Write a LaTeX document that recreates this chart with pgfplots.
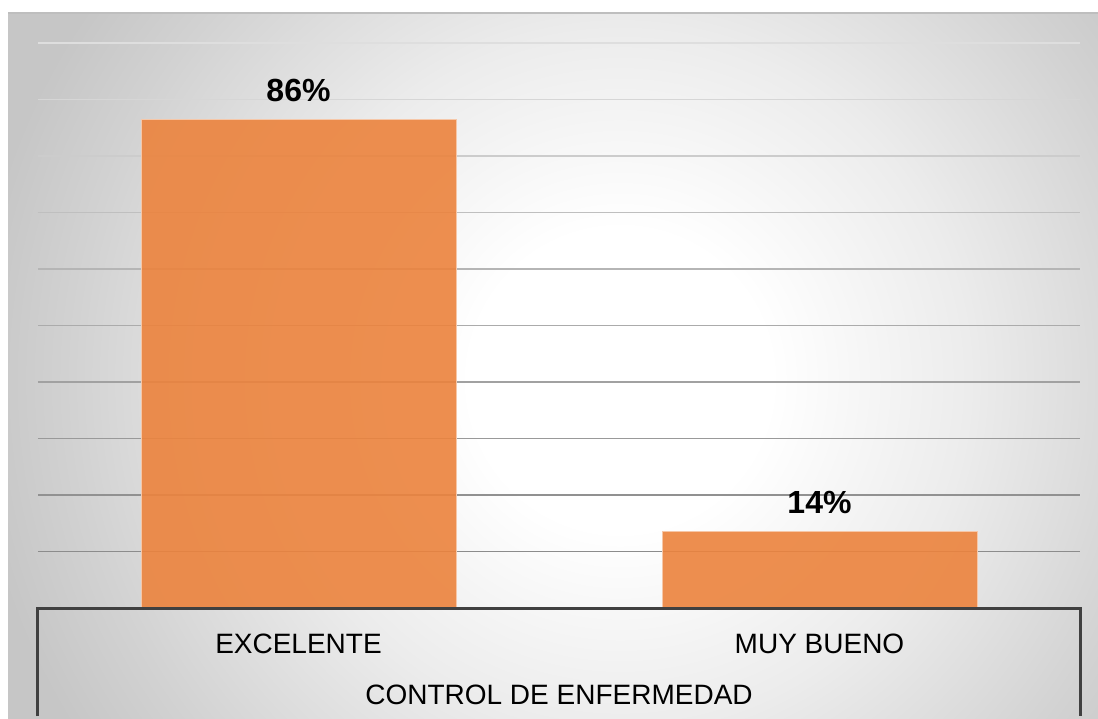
\documentclass[border=0pt]{standalone}
\usepackage{fontspec}
\setmainfont{Liberation Sans}
\usepackage{pgfplots}
\pgfplotsset{compat=1.18}
\definecolor{barc}{RGB}{236,131,61}
\definecolor{axc}{RGB}{64,64,64}
\definecolor{bgA}{RGB}{236,236,236}
\definecolor{bgB}{RGB}{210,210,210}
\definecolor{bgC}{RGB}{198,198,198}
\definecolor{bordc}{RGB}{190,190,190}
\pgfdeclareradialshading{chartbg}{\pgfpoint{0bp}{0bp}}{color(0bp)=(white); color(4.7bp)=(white); color(10.9bp)=(bgA); color(17.1bp)=(bgB); color(20.3bp)=(bgC); color(25bp)=(bgC); color(50bp)=(bgC)}
\begin{document}
\begin{tikzpicture}
\useasboundingbox (0,0) rectangle (549pt,359pt);
\begin{scope}
\clip (4pt,0) rectangle (549pt,352.5pt);
\shade[shading=chartbg] (310pt,169pt) circle (400pt);
\end{scope}
\draw[bordc, line width=0.6pt] (4pt,352.5pt) -- (549pt,352.5pt);
\begin{axis}[
  at={(19pt,55pt)}, anchor=south west,
  scale only axis, width=521pt, height=282.5pt,
  xmin=-0.5, xmax=1.5, ymin=0, ymax=100,
  clip=false,
  hide y axis,
  axis x line*=bottom,
  x axis line style={draw=none},
  major tick length=0pt,
  xtick={0,1},
  xticklabels={EXCELENTE, MUY BUENO},
  xticklabel style={font=\fontsize{14}{16}\selectfont, anchor=base, yshift=-22.5pt, inner sep=0pt},
  xlabel={CONTROL DE ENFERMEDAD},
  xlabel style={at={(axis description cs:0.5,0)}, anchor=base, yshift=-48pt, font=\fontsize{14}{16}\selectfont, inner sep=0pt},
]
% horizontal gridlines (darker toward the bottom)
\draw[color=black!45, line width=0.75pt] (axis cs:-0.5,10) -- (axis cs:1.5,10);
\draw[color=black!43, line width=0.75pt] (axis cs:-0.5,20) -- (axis cs:1.5,20);
\draw[color=black!40, line width=0.75pt] (axis cs:-0.5,30) -- (axis cs:1.5,30);
\draw[color=black!37, line width=0.75pt] (axis cs:-0.5,40) -- (axis cs:1.5,40);
\draw[color=black!33, line width=0.75pt] (axis cs:-0.5,50) -- (axis cs:1.5,50);
\draw[color=black!29, line width=0.75pt] (axis cs:-0.5,60) -- (axis cs:1.5,60);
\draw[color=black!25, line width=0.75pt] (axis cs:-0.5,70) -- (axis cs:1.5,70);
\draw[color=black!20, line width=0.75pt] (axis cs:-0.5,80) -- (axis cs:1.5,80);
\draw[color=black!16, line width=0.75pt] (axis cs:-0.5,90) -- (axis cs:1.5,90);
\draw[color=black!13, line width=0.75pt] (axis cs:-0.5,100) -- (axis cs:1.5,100);
\addplot[ybar, bar width=157.5pt, fill=barc, fill opacity=0.9, draw=white!55!barc, line width=0.5pt,
  nodes near coords, point meta=explicit symbolic,
  nodes near coords style={font=\bfseries\fontsize{16}{18}\selectfont, text=black, text opacity=1, inner sep=0pt, anchor=base, yshift=9pt}]
  table[x=x, y=y, meta=label, row sep=\\]{
  x y label\\
  0 86.4 86\%\\
  1 13.6 14\%\\
};
\draw[axc, line width=1.5pt, line join=miter]
  ([yshift=-54pt]axis cs:-0.5,0) -- (axis cs:-0.5,0) -- (axis cs:1.5,0) -- ([yshift=-54pt]axis cs:1.5,0);
\end{axis}
\end{tikzpicture}
\end{document}
